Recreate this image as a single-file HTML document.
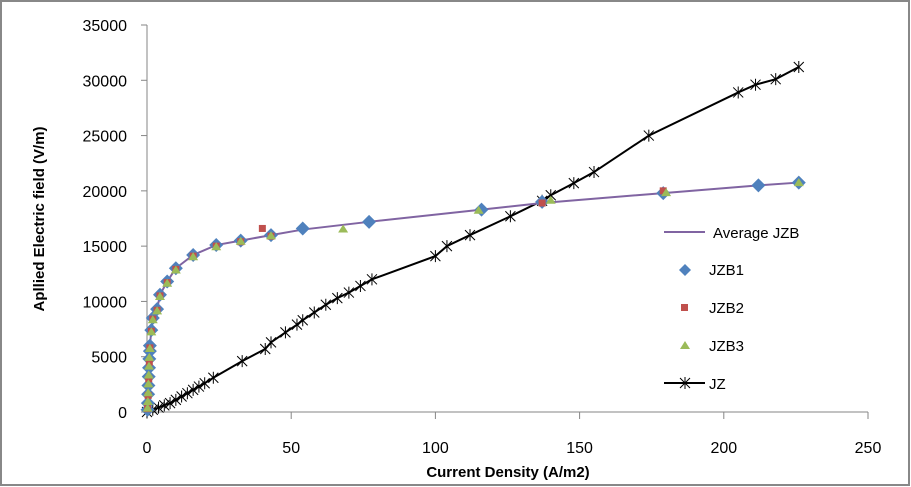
<!DOCTYPE html>
<html><head><meta charset="utf-8"><style>
html,body{margin:0;padding:0;background:#fff;}
svg{display:block;font-family:"Liberation Sans",sans-serif;}
</style></head><body>
<svg id="chart" width="911" height="487">
<rect x="1" y="1" width="908" height="484" fill="#fff" stroke="#888" stroke-width="2"/>
<g id="axes"></g>
<g id="series"></g>
<g id="legend">
 <line x1="664" y1="232" x2="705" y2="232" stroke="#8064A2" stroke-width="2"/>
 <text x="713" y="238" font-size="15">Average JZB</text>
 <path d="M685 264 l6 6 l-6 6 l-6 -6z" fill="#4F81BD"/>
 <text x="709" y="275" font-size="15">JZB1</text>
 <rect x="681" y="304" width="7" height="7" fill="#C0504D"/>
 <text x="709" y="313" font-size="15">JZB2</text>
 <path d="M685 341 l5 8 l-10 0z" fill="#9BBB59"/>
 <text x="709" y="351" font-size="15">JZB3</text>
 <line x1="664" y1="383" x2="705" y2="383" stroke="#000" stroke-width="2"/>
 <path d="M680 378 l10 10 M690 378 l-10 10 M685 377 v12" stroke="#000" stroke-width="1"/>
 <text x="709" y="389" font-size="15">JZ</text>
</g>
<text x="508" y="477" font-size="15" font-weight="bold" text-anchor="middle">Current Density  (A/m2)</text>
<text transform="translate(44,219) rotate(-90)" font-size="15" font-weight="bold" text-anchor="middle">Apllied Electric field (V/m)</text>
</svg>
<script>
const xTicks=[0,50,100,150,200,250];
const yTicks=[0,5000,10000,15000,20000,25000,30000,35000];
const jzb1X=[0.2,0.3,0.4,0.5,0.6,0.7,0.8,1,1,1.5,2,3.5,4.5,7,10,16,24,32.5,43,54,77,116,137,179,212,226];
const jzb1Y=[200,800,1600,2400,3200,4000,4800,5500,6000,7400,8500,9300,10600,11800,13000,14200,15100,15500,16000,16600,17200,18300,19000,19800,20500,20750];
const jzb2X=[0.2,0.4,0.6,0.8,1,1.5,2,3.5,4.5,7,10,16,24,32.5,40,43,137,179];
const jzb2Y=[300,1500,3000,4500,5800,7300,8400,9200,10500,11700,12900,14100,15000,15400,16600,15900,18900,20000];
const jzb3X=[0.2,0.3,0.4,0.5,0.6,0.7,0.8,1,1.5,2,3.5,4.5,7,10,16,24,32.5,43,68,115,140,180,226];
const jzb3Y=[300,900,1700,2500,3300,4100,4900,5700,7200,8300,9100,10400,11600,12800,14000,14900,15400,15900,16500,18200,19100,19800,20700];
const avgX=[0.2,0.5,1,1.5,2,3.5,4.5,7,10,16,24,32.5,43,54,77,116,137,179,212,226];
const avgY=[200,2400,6000,7400,8500,9300,10600,11800,13000,14200,15100,15500,16000,16500,17200,18300,18900,19800,20500,20750];
const jzX=[0,2,4,6,8,10,12,14,16,18,20,23,33,41,43,48,52,54,58,62,66,70,74,78,100,104,112,126,137,140,148,155,174,205,211,218,226];
const jzY=[0,200,400,600,800,1100,1400,1700,2000,2300,2600,3100,4600,5700,6300,7200,7900,8300,9000,9700,10300,10800,11400,12000,14100,15000,16000,17700,19100,19600,20700,21700,25000,28900,29600,30100,31200];

const NS='http://www.w3.org/2000/svg';
const X0=147,X1=868,Y0=412,Y1=25;
function sx(v){return X0+(v-0)/(250-0)*(X1-X0);}
function sy(v){return Y0-(v-0)/(35000-0)*(Y0-Y1);}
function mk(tag,attrs,parent){const e=document.createElementNS(NS,tag);for(const k in attrs)e.setAttribute(k,attrs[k]);parent.appendChild(e);return e;}
const axes=document.getElementById('axes'),ser=document.getElementById('series');
let e;
e=mk('line',{x1:X0,y1:Y0,x2:X1,y2:Y0,stroke:'#868686'},axes);


e=mk('line',{x1:X0,y1:Y0,x2:X0,y2:Y1,stroke:'#868686'},axes);


xTicks.forEach(t=>{
 const x=sx(t);
 e=mk('line',{x1:x,y1:Y0,x2:x,y2:Y0+7,stroke:'#868686'},axes);
 
 
 e=mk('text',{x:x,y:Y0+41,'font-size':16,'text-anchor':'middle',fill:'#000'},axes);e.textContent=t;
 
 
});
yTicks.forEach(t=>{
 const y=sy(t);
 e=mk('line',{x1:X0-6,y1:y,x2:X0,y2:y,stroke:'#868686'},axes);
 
 
 e=mk('text',{x:X0-20,y:y+6,'font-size':16,'text-anchor':'end',fill:'#000'},axes);e.textContent=t;
 
 
});
function pts(xs,ys){return xs.map((v,i)=>sx(v)+','+sy(ys[i])).join(' ');}
e=mk('polyline',{points:pts(jzX,jzY),fill:'none',stroke:'#000','stroke-width':2},ser);


jzX.forEach((v,i)=>{const x=sx(v),y=sy(jzY[i]);
 e=mk('path',{d:`M${x-5} ${y-5}l10 10M${x+5} ${y-5}l-10 10M${x} ${y-6}v12`,stroke:'#000','stroke-width':1},ser);
 
 
});
e=mk('polyline',{points:pts(avgX,avgY),fill:'none',stroke:'#8064A2','stroke-width':2},ser);


jzb1X.forEach((v,i)=>{const x=sx(v),y=sy(jzb1Y[i]);
 e=mk('path',{d:`M${x} ${y-7}l7 7l-7 7l-7 -7z`,fill:'#4F81BD'},ser);
 
 
});
jzb2X.forEach((v,i)=>{const x=sx(v),y=sy(jzb2Y[i]);
 e=mk('rect',{x:x-3.5,y:y-3.5,width:7,height:7,fill:'#C0504D'},ser);
 
 
});
jzb3X.forEach((v,i)=>{const x=sx(v),y=sy(jzb3Y[i]);
 e=mk('path',{d:`M${x} ${y-5}l5 8l-10 0z`,fill:'#9BBB59'},ser);
 
 
});
</script>
</body></html>
